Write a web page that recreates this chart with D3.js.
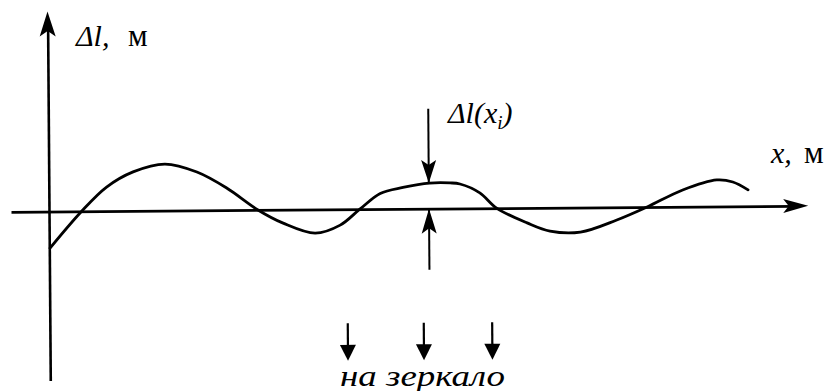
<!DOCTYPE html>
<html>
<head>
<meta charset="utf-8">
<script src="https://cdn.jsdelivr.net/npm/d3@7"></script>
<style>
  body { margin: 0; background: #fff; }
</style>
</head>
<body>
<div id="chart"></div>
<script>
// curve: x in m, deviation in arbitrary units
const xValues = [0.01, 0.43, 0.76, 1.11, 1.53, 1.95, 2.34, 2.75, 3.08, 3.50, 3.83, 4.09,
  4.36, 4.66, 5.01, 5.28, 5.41, 5.67, 5.89, 6.29, 6.59, 6.99, 7.47, 7.87, 8.34, 8.79, 9.00, 9.20];
const dlValues = [-1.83, 0, 1.2, 1.95, 2.33, 1.92, 1.11, 0, -0.67, -1.18, -0.79, 0,
  0.78, 1.07, 1.28, 1.28, 1.22, 0.77, 0, -0.75, -1.17, -1.23, -0.64, 0, 0.84, 1.33, 1.22, 0.82];
const markerX = [5.0];
const markerDl = [1.28];
const mirrorX = [3.92, 4.92, 5.82];

const W = 832, H = 391;
const FONT = '"Liberation Serif"';
const svg = d3.select("#chart").append("svg").attr("width", W).attr("height", H);
svg.append("rect").attr("width", W).attr("height", H).attr("fill", "#fff");

// the scan is tilted a little, so the whole drawing sits in a rotated group
const g = svg.append("g").attr("transform", "translate(49,211.5) rotate(-0.43)");

const x = d3.scaleLinear().domain([0, 10]).range([0, 760]);
const y = d3.scaleLinear().domain([-1, 1]).range([20, -20]);

function arrowHead(tx, ty, dir, len, hw) {
  // dir: "up", "down", "right"
  const notch = len * 0.22;
  if (dir === "right") {
    return `M${tx},${ty} L${tx - len},${ty - hw} L${tx - len + notch},${ty} L${tx - len},${ty + hw} Z`;
  }
  const s = dir === "up" ? 1 : -1;
  return `M${tx},${ty} L${tx - hw},${ty + s * len} L${tx},${ty + s * (len - notch)} L${tx + hw},${ty + s * len} Z`;
}

// axes without ticks
const xAxisScale = d3.scaleLinear().domain([-0.5, 9.8]).range([x(-0.5), x(9.8)]);
const xAxis = g.append("g").call(d3.axisBottom(xAxisScale).tickValues([]).tickSizeOuter(0));
xAxis.select(".domain").attr("stroke-width", 2.8);
g.append("path").attr("d", arrowHead(x(9.99), y(0), "right", 25, 7)).attr("fill", "#000");

const yAxisScale = d3.scaleLinear().domain([-8.45, 9.6]).range([y(-8.45), y(9.6)]);
const yAxis = g.append("g").call(d3.axisLeft(yAxisScale).tickValues([]).tickSizeOuter(0));
yAxis.select(".domain").attr("stroke-width", 2.6);
g.append("path").attr("d", arrowHead(x(0), y(10), "up", 25, 8)).attr("fill", "#000");

// curve
const pts = xValues.map((v, i) => [v, dlValues[i]]);
const line = d3.line()
  .x((d) => x(d[0]))
  .y((d) => y(d[1]))
  .curve(d3.curveCatmullRom.alpha(0.5));
g.append("path").datum(pts).attr("d", line)
  .attr("fill", "none").attr("stroke", "#000").attr("stroke-width", 2.8)
  .attr("stroke-linecap", "round");

// deviation marker at x_i
markerX.forEach((mx, i) => {
  const xi = x(mx);
  g.append("line").attr("x1", xi).attr("x2", xi).attr("y1", y(5.0)).attr("y2", y(markerDl[i]))
    .attr("stroke", "#000").attr("stroke-width", 2);
  g.append("line").attr("x1", xi).attr("x2", xi).attr("y1", y(0)).attr("y2", y(-3.05))
    .attr("stroke", "#000").attr("stroke-width", 2);
  g.append("path").attr("d", arrowHead(xi, y(markerDl[i]), "down", 23, 7.5)).attr("fill", "#000");
  g.append("path").attr("d", arrowHead(xi, y(0), "up", 25, 7.5)).attr("fill", "#000");
});

// arrows "на зеркало"
mirrorX.forEach((mx) => {
  const xm = x(mx);
  g.append("line").attr("x1", xm).attr("x2", xm).attr("y1", y(-5.7)).attr("y2", y(-7.0))
    .attr("stroke", "#000").attr("stroke-width", 2.2);
  g.append("path")
    .attr("d", `M${xm},${y(-7.58)} L${xm - 8},${y(-6.78)} L${xm + 8},${y(-6.78)} Z`)
    .attr("fill", "#000");
});

// labels
const yLab = svg.append("text").attr("x", 76).attr("y", 46).attr("font-size", 30)
  .style("font-family", FONT);
yLab.append("tspan").attr("font-style", "italic").text("Δl,");
yLab.append("tspan").attr("x", 128).attr("font-size", 31).text("м");

const xLab = svg.append("text").attr("x", 771).attr("y", 163).attr("font-size", 30)
  .style("font-family", FONT);
xLab.append("tspan").attr("font-style", "italic").text("x,");
xLab.append("tspan").attr("x", 804).attr("font-size", 31).text("м");

const mLab = svg.append("text").attr("x", 448).attr("y", 123).attr("font-size", 30)
  .style("font-family", FONT).attr("font-style", "italic");
mLab.append("tspan").text("Δl(x");
mLab.append("tspan").attr("font-size", 19).attr("dy", 6).text("i");
mLab.append("tspan").attr("dy", -6).text(")");

svg.append("text").attr("x", 340).attr("y", 386).attr("font-size", 29)
  .style("font-family", FONT).attr("font-style", "italic")
  .attr("textLength", 165).attr("lengthAdjust", "spacingAndGlyphs")
  .text("на зеркало");
</script>
</body>
</html>
